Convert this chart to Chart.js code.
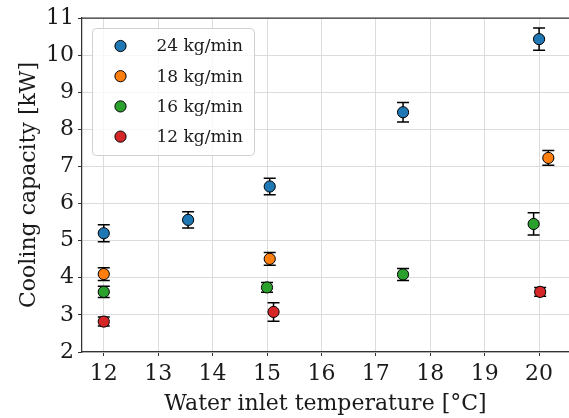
<!DOCTYPE html>
<html>
<head>
<meta charset="utf-8">
<script src="https://cdn.jsdelivr.net/npm/chart.js@4.4.1/dist/chart.umd.min.js"></script>
<style>
html,body{margin:0;padding:0;background:#fff;overflow:hidden;}
canvas{display:block;}
</style>
</head>
<body>
<canvas id="c" width="569" height="418"></canvas>
<script>
// ---- data ----
const seriesLabels = ["24 kg/min", "18 kg/min", "16 kg/min", "12 kg/min"];
const seriesColors = ["#1f77b4", "#ff7f0e", "#2ca02c", "#d62728"];

const x24 = [12, 13.55, 15.05, 17.5, 20];
const y24 = [5.2, 5.56, 6.46, 8.46, 10.43];
const e24 = [0.23, 0.22, 0.22, 0.26, 0.3];

const x18 = [12, 15.05, 20.17];
const y18 = [4.1, 4.51, 7.23];
const e18 = [0.17, 0.17, 0.2];

const x16 = [12, 15.0, 17.5, 19.9];
const y16 = [3.62, 3.74, 4.09, 5.45];
const e16 = [0.15, 0.13, 0.16, 0.3];

const x12 = [12, 15.12, 20.02];
const y12 = [2.82, 3.08, 3.62];
const e12 = [0.12, 0.25, 0.12];

const xs = [x24, x18, x16, x12];
const ys = [y24, y18, y16, y12];
const es = [e24, e18, e16, e12];

const xTitle = "Water inlet temperature [°C]";
const yTitle = "Cooling capacity [kW]";
const FONT = "'DejaVu Serif', serif";

const datasets = seriesLabels.map((lab, i) => ({
  label: lab,
  data: xs[i].map((x, j) => ({x: x, y: ys[i][j], err: es[i][j]})),
  backgroundColor: seriesColors[i],
  borderColor: "#000",
  borderWidth: 1,
  pointRadius: 5.6,
  pointHoverRadius: 5.6
}));

const errorBars = {
  id: "errorBars",
  beforeDatasetsDraw(chart) {
    const ctx = chart.ctx, xs_ = chart.scales.x, ys_ = chart.scales.y;
    ctx.save();
    ctx.strokeStyle = "#000";
    ctx.lineWidth = 1.5;
    chart.data.datasets.forEach(ds => {
      ds.data.forEach(p => {
        const px = xs_.getPixelForValue(p.x);
        const t = ys_.getPixelForValue(p.y + p.err);
        const b = ys_.getPixelForValue(p.y - p.err);
        ctx.beginPath();
        ctx.moveTo(px, t); ctx.lineTo(px, b);
        ctx.moveTo(px - 6, t); ctx.lineTo(px + 6, t);
        ctx.moveTo(px - 6, b); ctx.lineTo(px + 6, b);
        ctx.stroke();
      });
    });
    ctx.restore();
  }
};

const frameAndLegend = {
  id: "frameAndLegend",
  afterDraw(chart) {
    const ctx = chart.ctx, a = chart.chartArea;
    ctx.save();
    // top spine
    ctx.strokeStyle = "#333";
    ctx.lineWidth = 1.25;
    ctx.beginPath();
    ctx.moveTo(a.left, a.top); ctx.lineTo(a.right, a.top);
    ctx.stroke();
    // legend box
    const bx = a.left + 10.5, by = a.top + 10.5, bw = 162, bh = 127, r = 4;
    ctx.beginPath();
    ctx.moveTo(bx + r, by);
    ctx.lineTo(bx + bw - r, by); ctx.arcTo(bx + bw, by, bx + bw, by + r, r);
    ctx.lineTo(bx + bw, by + bh - r); ctx.arcTo(bx + bw, by + bh, bx + bw - r, by + bh, r);
    ctx.lineTo(bx + r, by + bh); ctx.arcTo(bx, by + bh, bx, by + bh - r, r);
    ctx.lineTo(bx, by + r); ctx.arcTo(bx, by, bx + r, by, r);
    ctx.closePath();
    ctx.fillStyle = "rgba(255,255,255,0.8)";
    ctx.fill();
    ctx.strokeStyle = "#d0d0d0";
    ctx.lineWidth = 1;
    ctx.stroke();
    ctx.font = "17px " + FONT;
    ctx.textBaseline = "middle";
    ctx.textAlign = "left";
    chart.data.datasets.forEach((ds, i) => {
      const cy = by + 17.5 + i * 30.2;
      const cx = bx + 28;
      ctx.beginPath();
      ctx.arc(cx, cy, 5.6, 0, Math.PI * 2);
      ctx.fillStyle = ds.backgroundColor;
      ctx.fill();
      ctx.strokeStyle = "#000";
      ctx.lineWidth = 1;
      ctx.stroke();
      ctx.fillStyle = "#1a1a1a";
      ctx.fillText(ds.label, bx + 64, cy + 1);
    });
    ctx.restore();
  }
};

new Chart(document.getElementById("c"), {
  type: "scatter",
  data: {datasets: datasets},
  plugins: [errorBars, frameAndLegend],
  options: {
    responsive: false,
    animation: false,
    events: [],
    layout: {autoPadding: false, padding: {top: 18, right: 0, left: 0, bottom: 0}},
    plugins: {legend: {display: false}, tooltip: {enabled: false}},
    scales: {
      x: {
        type: "linear",
        min: 11.6, max: 20.55,
        afterFit: s => { s.height = 66; s.paddingRight = 0; s.paddingLeft = 0; },
        ticks: {stepSize: 1, includeBounds: false, color: "#1a1a1a", padding: 5,
                font: {family: FONT, size: 22}},
        grid: {color: "#dcdcdc", lineWidth: 1, tickColor: "#333", tickLength: 4},
        border: {color: "#333", width: 1.25},
        title: {display: true, text: xTitle, color: "#1a1a1a",
                font: {family: FONT, size: 22}, padding: {top: 0, bottom: 1}}
      },
      y: {
        type: "linear",
        min: 2, max: 11,
        afterFit: s => { s.width = 82; s.paddingTop = 0; s.paddingBottom = 0; },
        ticks: {stepSize: 1, color: "#1a1a1a", padding: 4,
                font: {family: FONT, size: 22}},
        grid: {color: "#dcdcdc", lineWidth: 1, tickColor: "#333", tickLength: 4},
        border: {color: "#333", width: 1.25},
        title: {display: true, text: yTitle, color: "#1a1a1a",
                font: {family: FONT, size: 22}, padding: {top: 16, bottom: 0}}
      }
    }
  }
});
</script>
</body>
</html>
